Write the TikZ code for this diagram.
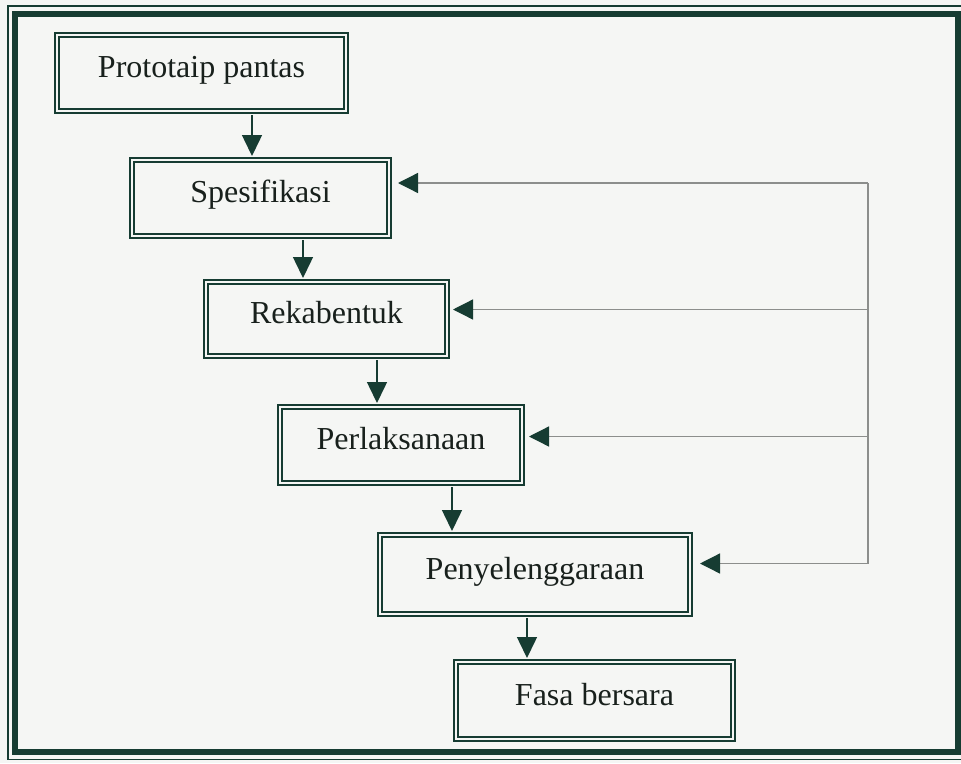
\documentclass[tikz,border=0pt]{standalone}
\usepackage{fontspec}
\setmainfont{Liberation Serif}
\usetikzlibrary{arrows.meta,calc}
\definecolor{ink}{RGB}{22,60,50}
\definecolor{txt}{RGB}{24,32,28}
\definecolor{paper}{RGB}{245,246,244}
\definecolor{fbgray}{RGB}{140,142,140}

\begin{document}
\begin{tikzpicture}[x=1pt,y=-1pt,
  stage/.style={draw=ink, double=paper, double distance=2.4pt, line width=2pt,
    inner sep=0pt, text height=19pt, text depth=10pt,
    font=\fontsize{32}{38}\selectfont, text=txt},
  flow/.style={draw=ink, line width=1.5pt, -{Triangle[length=21pt,width=20pt]},
    shorten <=3pt, shorten >=3pt},
  fb/.style={draw=fbgray, line width=1.3pt},
  fbarrow/.style={fb, -{Triangle[length=20pt,width=20pt,color=ink,fill=ink]}}]

% page and double frame
\fill[paper] (0,0) rectangle (961,763);
\useasboundingbox (0,0) rectangle (961,763);
\draw[ink, line width=6pt] (15,13.5) rectangle (958,752);
\draw[ink, line width=1.5pt] (8,6) rectangle (966,759.5);

% stages of the life cycle
\node[stage, minimum width=289pt, minimum height=76pt] (b1) at (201.5,73) {Prototaip pantas};
\node[stage, minimum width=257pt, minimum height=76pt] (b2) at (260.5,198) {Spesifikasi};
\node[stage, minimum width=241pt, minimum height=74pt] (b3) at (326.5,319) {Rekabentuk};
\node[stage, minimum width=242pt, minimum height=76pt] (b4) at (401,445) {Perlaksanaan};
\node[stage, minimum width=310pt, minimum height=79pt] (b5) at (535,574.5) {Penyelenggaraan};
\node[stage, minimum width=277pt, minimum height=77pt] (b6) at (594.5,700.5) {Fasa bersara};

% columns of the downward arrows
\coordinate (x1) at (252,0);
\coordinate (x2) at (303,0);
\coordinate (x3) at (377,0);
\coordinate (x4) at (452,0);
\coordinate (x5) at (527,0);

\draw[flow] (b1.south -| x1) -- (b2.north -| x1);
\draw[flow] (b2.south -| x2) -- (b3.north -| x2);
\draw[flow] (b3.south -| x3) -- (b4.north -| x3);
\draw[flow] (b4.south -| x4) -- (b5.north -| x4);
\draw[flow] (b5.south -| x5) -- (b6.north -| x5);

% feedback rail on the right
\coordinate (r2) at (868,183);
\coordinate (r3) at (868,309.5);
\coordinate (r4) at (868,436.5);
\coordinate (r5) at (868,563.5);

\draw[fb] (r2) -- (r5);
\draw[fbarrow, shorten >=8pt] (r2) -- (b2.east |- r2);
\draw[fbarrow, shorten >=5pt] (r3) -- (b3.east |- r3);
\draw[fbarrow, shorten >=6pt] (r4) -- (b4.east |- r4);
\draw[fbarrow, shorten >=9pt] (r5) -- (b5.east |- r5);
\end{tikzpicture}
\end{document}
